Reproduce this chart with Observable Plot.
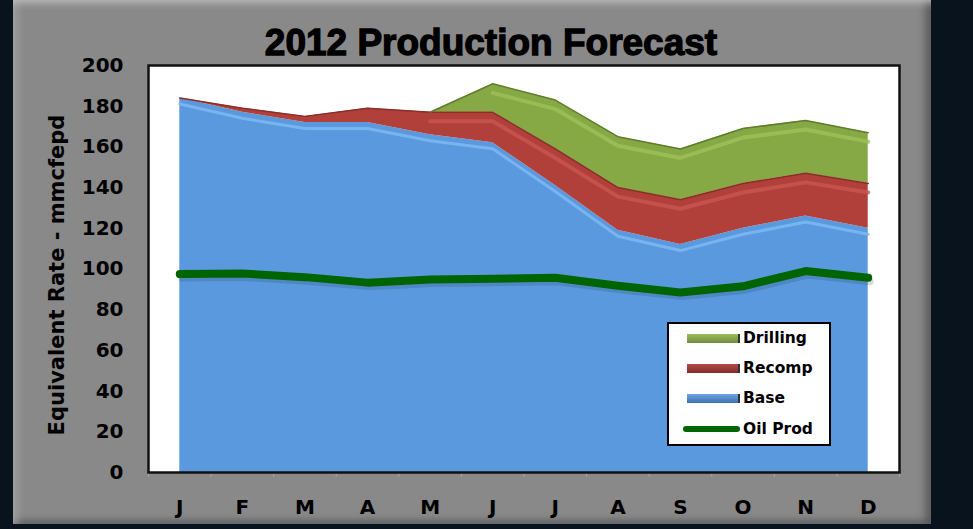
<!DOCTYPE html>
<html><head><meta charset="utf-8">
<script src="https://cdn.jsdelivr.net/npm/d3@7"></script>
<script src="https://cdn.jsdelivr.net/npm/@observablehq/plot@0.6"></script>
<style>
html,body{margin:0;padding:0;background:#08131d;width:973px;height:529px;overflow:hidden;}
#wrap{position:relative;width:973px;height:529px;}
#panel{position:absolute;left:13px;top:-4px;width:918px;height:528px;background:#898989;
  box-shadow: inset 0 12px 8px -6px #c4c4c4, inset -9px 0 8px -4px #555, inset 8px 0 8px -4px #a2a2a2, inset 0 -7px 6px -3px #606060;}
#chart{position:absolute;left:0;top:0;}
#title{position:absolute;left:0;width:982px;top:24px;text-align:center;font:bold 37px "Liberation Sans",Arial,sans-serif;line-height:37px;-webkit-text-stroke:1.3px #000;color:#000;}
#legend{position:absolute;left:667px;top:322px;width:160px;height:120px;background:#fff;border:2px solid #000;}
.sw{position:absolute;left:18px;width:51px;height:9px;}
.lt{position:absolute;left:74px;font:bold 15.5px "DejaVu Sans",sans-serif;line-height:18px;color:#000;}
</style></head>
<body>
<div id="wrap">
  <div id="panel"></div>
  <div id="chart"></div>
  <div id="title">2012 Production Forecast</div>
  <div id="legend"></div>
</div>
<script>
const months = ["J","F","M","A","M","J","J","A","S","O","N","D"];
const base     = [184, 177, 172, 172, 166, 162, 141, 119, 112, 120, 126, 120];
const recomp   = [0,   2,   3,   7,   11,  15,  18,  21,  22,  22,  21,  22];
const drilling = [0,   0,   0,   0,   0,   14,  24,  25,  25,  27,  26,  25];
const oilProd  = [97.5, 97.8, 96, 93.3, 94.8, 95.2, 95.7, 91.8, 88.5, 91.5, 99, 95.7];
const seriesNames = ["Drilling", "Recomp", "Base", "Oil Prod"];
const yLabel = "Equivalent Rate - mmcfepd";

const idx = d3.range(months.length);
const rows = idx.map(i => ({
  i,
  b0: 0,
  b1: base[i],
  r1: base[i] + recomp[i],
  d1: base[i] + recomp[i] + drilling[i],
  oil: oilProd[i]
}));
const bounds = d3.range(months.length + 1).map(k => k - 0.5);

const chart = Plot.plot({
  width: 973, height: 529,
  marginLeft: 148, marginRight: 74, marginTop: 65, marginBottom: 57,
  style: {background: "transparent", fontFamily: "'DejaVu Sans', sans-serif", fontWeight: "bold", fontSize: "20px", color: "#000", overflow: "visible"},
  x: {domain: [-0.5, 11.5], ticks: 12, tickFormat: i => months[i], tickSize: 0, tickPadding: 27, label: null},
  y: {domain: [0, 200], ticks: 10, tickSize: 0, tickPadding: 25, label: null},
  marks: [
    Plot.frame({fill: "#fff"}),
    Plot.areaY(rows, {x: "i", y1: "b0", y2: "b1", fill: "#5b99df"}),
    Plot.areaY(rows, {x: "i", y1: "b1", y2: "r1", fill: "#b1403b"}),
    Plot.areaY(rows.slice(4), {x: "i", y1: "r1", y2: "d1", fill: "#86a945"}),
    Plot.lineY(rows, {x: "i", y: "b1", stroke: "#7db9f3", strokeWidth: 3, dy: 6, strokeOpacity: 0.85}),
    Plot.lineY(rows.slice(4), {x: "i", y: "r1", stroke: "#c95550", strokeWidth: 4, dy: 9, strokeOpacity: 0.8}),
    Plot.lineY(rows.slice(5), {x: "i", y: "d1", stroke: "#9dc058", strokeWidth: 4, dy: 9, strokeOpacity: 0.8}),
    Plot.lineY(rows, {x: "i", y: "r1", stroke: "#8a2e2a", strokeWidth: 1.5}),
    Plot.lineY(rows.slice(4), {x: "i", y: "d1", stroke: "#5f7d2b", strokeWidth: 1.5}),
    Plot.lineY(rows, {x: "i", y: "oil", stroke: "#1b3550", strokeOpacity: 0.18, strokeWidth: 7, dy: 4, dx: 2, strokeLinecap: "round", strokeLinejoin: "round"}),
    Plot.lineY(rows, {x: "i", y: "oil", stroke: "#006400", strokeWidth: 8, strokeLinecap: "round", strokeLinejoin: "round"}),
    Plot.ruleX(bounds, {x: d => d, y1: 0, y2: -2.3, stroke: "#a8a8a8", strokeWidth: 1}),
    Plot.frame({stroke: "#111", strokeWidth: 2.5}),
    Plot.text([yLabel], {frameAnchor: "left", text: d => d, rotate: -90, dx: -91, dy: 6, textAnchor: "middle", fontSize: 21, fill: "#000"})
  ]
});
document.getElementById("chart").appendChild(chart);

// legend
const legendColors = {
  "Drilling": "linear-gradient(to bottom,#9cbc5c,#6f8d38)",
  "Recomp": "linear-gradient(to bottom,#b54a47,#7f2c2b)",
  "Base": "linear-gradient(to bottom,#6fa3e0,#3f72b4)"
};
const rowCenters = [14, 44, 74, 105];
const legend = document.getElementById("legend");
seriesNames.forEach((name, k) => {
  const cy = rowCenters[k];
  if (name === "Oil Prod") {
    const s = document.createElement("div");
    s.style.cssText = `position:absolute;left:14px;width:57px;height:6px;top:${cy - 3}px;background:#006400;border-radius:3px;`;
    legend.appendChild(s);
  } else {
    const s = document.createElement("div");
    s.className = "sw";
    s.style.top = (cy - 4.5) + "px";
    s.style.background = legendColors[name];
    s.style.borderRight = "2px solid #333";
    legend.appendChild(s);
  }
  const t = document.createElement("div");
  t.className = "lt";
  t.style.top = (cy - 9) + "px";
  t.textContent = name;
  legend.appendChild(t);
});
</script>
</body></html>
